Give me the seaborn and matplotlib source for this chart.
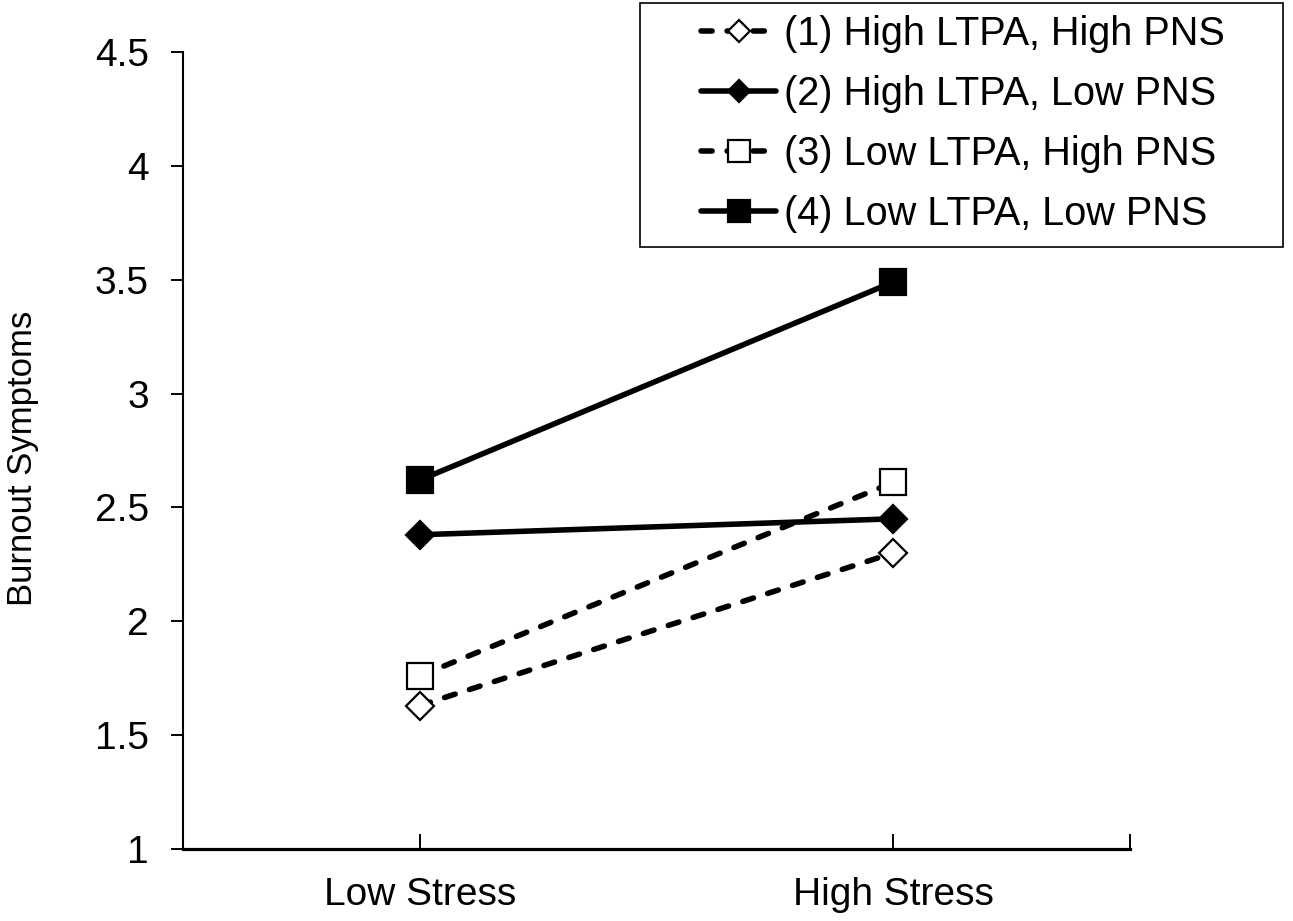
import numpy as np
import pandas as pd
import seaborn as sns
import matplotlib.pyplot as plt
from matplotlib.patches import Rectangle

stress = ['Low Stress', 'High Stress']
groups = ['(1) High LTPA, High PNS', '(2) High LTPA, Low PNS',
          '(3) Low LTPA, High PNS', '(4) Low LTPA, Low PNS']
g1 = [1.63, 2.30]
g2 = [2.38, 2.45]
g3 = [1.76, 2.61]
g4 = [2.62, 3.49]
y_ticks = [1, 1.5, 2, 2.5, 3, 3.5, 4, 4.5]
y_labels = ['1', '1.5', '2', '2.5', '3', '3.5', '4', '4.5']

df = pd.DataFrame({'Stress': stress * 4,
                   'Group': np.repeat(groups, 2),
                   'Burnout': g1 + g2 + g3 + g4})

dash = (0, (2.0, 2.7))
looks = {
    groups[0]: dict(marker='D', ms=14.5, mfc='white', ls=dash),
    groups[1]: dict(marker='D', ms=14.5, mfc='black', ls='-'),
    groups[2]: dict(marker='s', ms=19, mfc='white', ls=dash),
    groups[3]: dict(marker='s', ms=19, mfc='black', ls='-'),
}

sns.set_style('white')
plt.rcParams['font.family'] = ['Liberation Sans', 'DejaVu Sans']
plt.rcParams['text.color'] = 'black'
plt.rcParams['axes.labelcolor'] = 'black'
plt.rcParams['xtick.color'] = 'black'
plt.rcParams['ytick.color'] = 'black'

fig = plt.figure(figsize=(12.93, 9.21), dpi=100)
ax = fig.add_axes([183 / 1293, 72 / 921, 947 / 1293, 797 / 921])

for g in groups:
    lk = looks[g]
    sns.lineplot(data=df[df['Group'] == g], x='Stress', y='Burnout', ax=ax,
                 color='black', linewidth=4.0, linestyle=lk['ls'],
                 dash_capstyle='round',
                 marker=lk['marker'], markersize=lk['ms'],
                 markerfacecolor=lk['mfc'], markeredgecolor='black',
                 markeredgewidth=1.6, errorbar=None, label=g)

ax.set_xlim(-0.5, 1.5)
ax.set_ylim(1, 4.5)
ax.set_yticks(y_ticks)
ax.set_yticklabels(y_labels)
ax.set_xticks([0, 1])
ax.set_xticklabels(stress)
ax.set_xticks([1.5], minor=True)
ax.tick_params(axis='y', direction='out', length=8.5, width=1.4, pad=16,
               labelsize=28, left=True)
ax.tick_params(axis='x', which='both', direction='in', length=11, width=1.4,
               pad=20, labelsize=28, bottom=True)
ax.set_xlabel('')
ax.set_ylabel('Burnout Symptoms', fontsize=25)
ax.yaxis.set_label_coords(-0.152, 0.49)

sns.despine(ax=ax)
ax.spines['left'].set_linewidth(1.5)
ax.spines['bottom'].set_linewidth(2.3)
ax.spines['left'].set_color('black')
ax.spines['bottom'].set_color('black')

handles, labels = ax.get_legend_handles_labels()
leg = ax.legend(handles, labels, loc='center', frameon=False,
                bbox_to_anchor=(963 / 1293, 1 - 124 / 921),
                bbox_transform=fig.transFigure, fontsize=28.5,
                handlelength=1.9, handletextpad=0.2, labelspacing=0.55,
                borderpad=0.2)
for h in leg.legend_handles:
    h.set_markersize(h.get_markersize() * 0.8)
fig.add_artist(Rectangle((640 / 1293, 1 - 247 / 921), 643 / 1293, 244 / 921,
                         transform=fig.transFigure, fill=False,
                         edgecolor='black', linewidth=1.2))

fig.savefig('out.png', dpi=100)
